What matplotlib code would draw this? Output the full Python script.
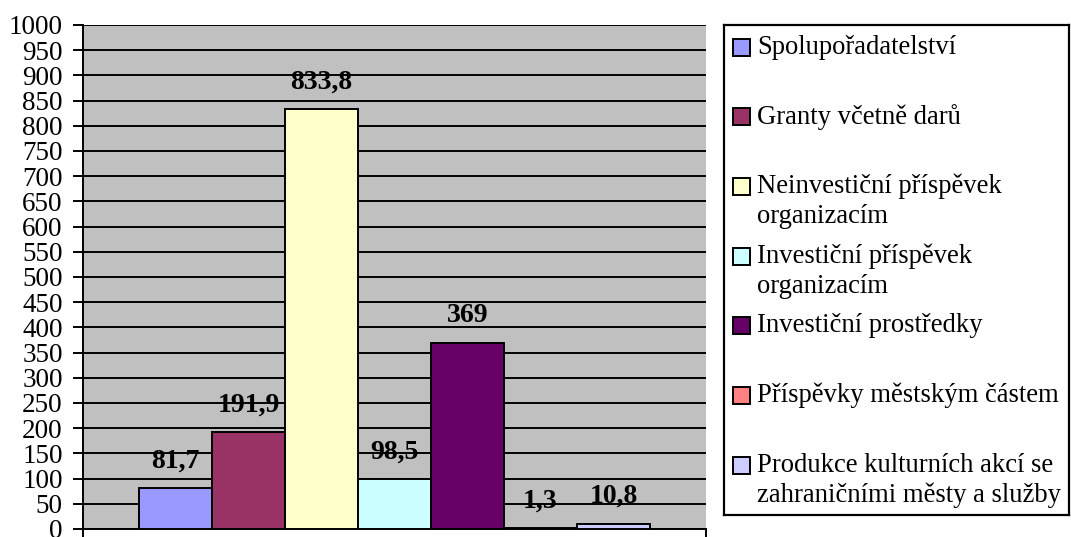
import matplotlib
matplotlib.use("Agg")
import matplotlib.pyplot as plt
from matplotlib.patches import Rectangle

# --- données ---
categories = [
    "Spolupořadatelství",
    "Granty včetně darů",
    "Neinvestiční příspěvek\norganizacím",
    "Investiční příspěvek\norganizacím",
    "Investiční prostředky",
    "Příspěvky městským částem",
    "Produkce kulturních akcí se\nzahraničními městy a služby",
]
values = [81.7, 191.9, 833.8, 98.5, 369, 1.3, 10.8]
colors = ["#9999FF", "#993366", "#FFFFCC", "#CCFFFF", "#660066", "#FF8080", "#CCCCFF"]
y_ticks = list(range(0, 1001, 50))

plt.rcParams['font.family'] = ['Liberation Serif', 'DejaVu Serif']

W, H = 1071, 537
fig = plt.figure(figsize=(W / 100, H / 100), dpi=100)

# zone du graphique (en pixels)
left, right, top, bottom = 83, 706, 25, 529
ax = fig.add_axes([left / W, (H - bottom) / H, (right - left) / W, (bottom - top) / H])
ax.set_facecolor("#C0C0C0")

n = len(values)
w = 0.1172
xs = [(i - (n - 1) / 2) * w for i in range(n)]
ax.bar(xs, values, width=w, color=colors, edgecolor="black", linewidth=1.4, zorder=3)

for x, v in zip(xs, values):
    lab = f"{v:g}".replace(".", ",")
    ax.annotate(lab, (x, v), xytext=(0, 19.5), textcoords="offset points",
                ha="center", va="center", fontsize=20, fontweight="bold", zorder=4)

ax.set_xlim(-0.5, 0.5)
ax.set_ylim(0, 1000)
ax.set_yticks(y_ticks)
ax.tick_params(axis="y", labelsize=19.5, length=7, width=1.4, direction="out", pad=7.5)
ax.yaxis.grid(True, color="black", linewidth=1.4, zorder=1)
ax.set_axisbelow(True)
ax.set_xticks([-0.5, 0.5])
ax.set_xticklabels([])
ax.tick_params(axis="x", length=7, width=1.4, direction="out")
for s in ["top", "right"]:
    ax.spines[s].set_visible(False)
for s in ["left", "bottom"]:
    ax.spines[s].set_linewidth(1.4)

# --- légende ---
lx0, lx1, ly0, ly1 = 724, 1069, 25, 515
lax = fig.add_axes([lx0 / W, (H - ly1) / H, (lx1 - lx0) / W, (ly1 - ly0) / H])
lax.set_xlim(0, lx1 - lx0)
lax.set_ylim(ly1 - ly0, 0)
lax.set_xticks([])
lax.set_yticks([])
for s in lax.spines.values():
    s.set_linewidth(1.6)

for i, (lab, c) in enumerate(zip(categories, colors)):
    yc = 22 + 69.7 * i
    lax.add_patch(Rectangle((9, yc - 8.5), 17, 17, facecolor=c, edgecolor="black", linewidth=1.4))
    for j, line in enumerate(lab.split("\n")):
        lax.text(33, yc + 30 * j, line, fontsize=19.2, va="center", ha="left")

fig.savefig("out.png", dpi=100)
